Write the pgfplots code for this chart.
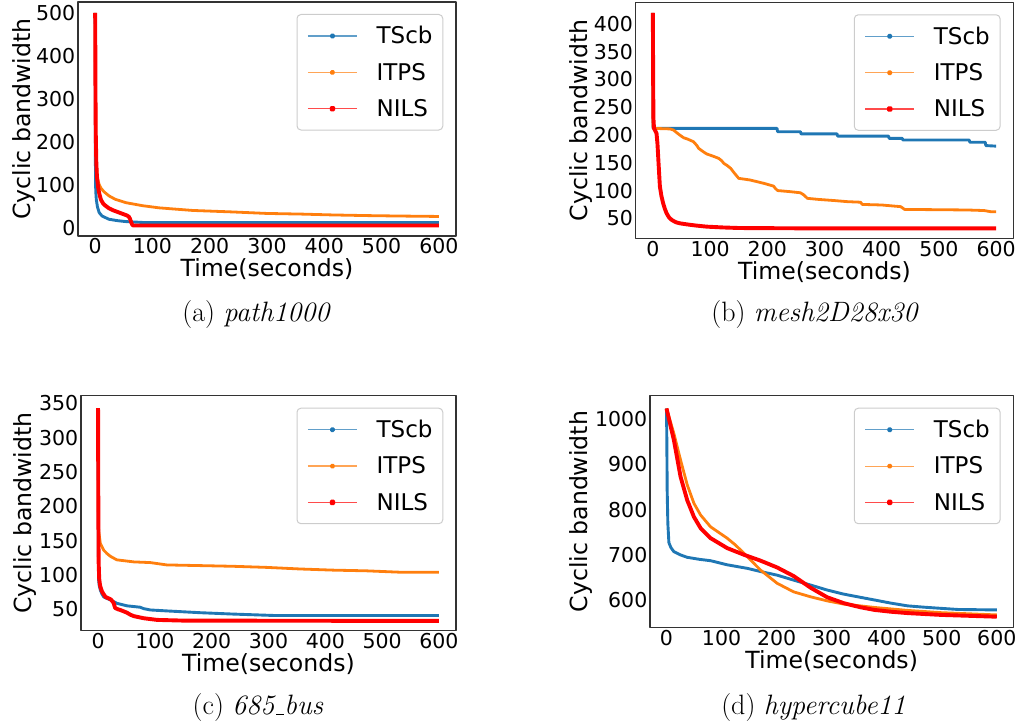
\documentclass[border=0pt]{standalone}
\usepackage{pgfplots}
\pgfplotsset{compat=1.18}
\usepackage{fontspec}
\newfontfamily\dv{DejaVu Sans}
\newcommand{\tickfont}{\dv\fontsize{20.5pt}{24pt}\selectfont}
\newcommand{\labfont}{\dv\fontsize{23.6pt}{28pt}\selectfont}
\newcommand{\legfont}{\dv\fontsize{23pt}{28pt}\selectfont}
\newcommand{\us}{\leavevmode\kern.06em\vbox{\hrule width .3em height 1.1pt}}
\definecolor{tblue}{HTML}{1F77B4}
\definecolor{torange}{HTML}{FF7F0E}
\definecolor{tred}{HTML}{FF0000}
\pgfplotsset{
  cbstyle/.style={
    scale only axis,
    axis line style={black!80, line width=1.1pt},
    major tick length=0pt,
    xmin=-30, xmax=630,
    xtick={0,100,...,600},
    scaled ticks=false,
    /pgf/number format/assume math mode=true,
    /pgf/number format/set thousands separator={},
    tick label style={font=\tickfont},
    xticklabel style={anchor=north, inner sep=0pt, yshift=-2.5pt},
    yticklabel style={anchor=east, inner sep=0pt, xshift=-2.5pt},
    label style={font=\labfont},
    xlabel={Time(seconds)},
    ylabel={Cyclic bandwidth},
    legend cell align=left,
    legend style={at={(axis description cs:1,1)}, anchor=north east,
      xshift=-12.7pt, yshift=-12pt, font=\legfont,
      draw=black!20, line width=1pt, rounded corners=4pt,
      fill=white, fill opacity=0.8, text opacity=1, draw opacity=1,
      inner xsep=10.3pt, inner ysep=12pt, row sep=17.7pt, column sep=19pt,
      nodes={inner sep=0pt}},
    legend image code/.code={
      \draw[##1, line width=1.3pt, opacity=0.7] (0pt,0pt) -- (49pt,0pt);
      \fill[##1, opacity=1] (24.5pt,0pt) circle (1.3pt);
    },
    line join=round,
  },
  tscb/.style={color=tblue, line width=2.9pt, line join=round},
  itps/.style={color=torange, line width=2.8pt, line join=round},
  nils/.style={color=tred, line width=3.9pt, line join=round},
}
\begin{document}
\begin{tikzpicture}
\path[use as bounding box] (0pt,0pt) rectangle (1018pt,727pt);

% (a) path1000
\begin{axis}[cbstyle, at={(78pt,491pt)}, anchor=south west,
  width=378pt, height=234pt, ymin=-19.5, ymax=525.5,
  ytick={0,100,...,500},
  xlabel style={at={(axis description cs:0.5,-0.1752)}, anchor=base},
  ylabel style={at={(axis description cs:-0.1251,0.5)}, anchor=base}]
\addplot[tscb] coordinates {(0,500) (0.5,120) (1,85) (2,65) (4,48) (7,35) (12,27) (24,19.5) (40,16) (54,14) (83,12) (200,12) (600,12)};
\addplot[itps] coordinates {(0,500) (1,200) (2,150) (4,115) (7,100) (10,92) (15,84) (24,74) (35,66) (54,58) (83,51) (112,46) (170,40) (240,36.5) (300,33) (360,31.5) (415,29.5) (475,28) (530,27) (600,26)};
\addplot[nils] coordinates {(0,500) (0.5,320) (1,220) (2,150) (3,120) (5,95) (7,80) (10,65) (14,56) (18,51) (24,45) (32,40) (42,35) (50,31) (56,28) (59,25) (61,20) (63,12) (65,6) (67,5) (200,5) (600,5)};
\legend{TScb,ITPS,NILS}
\end{axis}

% (b) mesh2D28x30
\begin{axis}[cbstyle, at={(635.7pt,488.3pt)}, anchor=south west,
  width=377.6pt, height=236.4pt, ymin=13.3, ymax=439.1,
  ytick={50,100,...,400},
  xlabel style={at={(axis description cs:0.5,-0.1734)}, anchor=base},
  ylabel style={at={(axis description cs:-0.1282,0.5)}, anchor=base}]
\addplot[tscb] coordinates {(0,420) (0.5,212) (217,212) (218,206) (258,206) (259,202) (322,202) (323,198) (412,198) (413,194) (436,194) (437,191) (553,191) (554,187) (581,187) (582,181) (600,180)};
\addplot[itps] coordinates {(0,420) (0.5,212) (30,211) (36,209) (42,204) (47,200) (54,195) (60,193) (71,188) (77,181) (80,176) (88,170) (94,166) (105,162) (115,158) (120,154) (124,149) (130,145) (136,140) (142,132) (150,122) (170,119) (182,116) (194,113) (211,108) (214,104) (218,100) (240,98) (258,96) (264,92) (270,86) (290,84) (317,82) (340,80) (363,79) (366,75) (400,74) (433,71) (436,69) (440,66) (500,65.5) (550,65) (579,64) (590,62) (600,62)};
\addplot[nils] coordinates {(0,420) (0.5,300) (1,230) (2,212) (3.5,209) (6.4,203) (8,185) (9.3,161) (11,130) (12.3,107) (15,90) (18,77) (21,67) (24,59) (28,52) (33,47) (40,43) (47,41) (60,39) (75,37) (94,35) (123,33.5) (152,32.5) (250,32) (600,32)};
\legend{TScb,ITPS,NILS}
\end{axis}

% (c) 685_bus
\begin{axis}[cbstyle, at={(81pt,96.3pt)}, anchor=south west,
  width=375pt, height=235pt, ymin=18.8, ymax=361.1,
  ytick={50,100,...,350},
  xlabel style={at={(axis description cs:0.5,-0.1745)}, anchor=base},
  ylabel style={at={(axis description cs:-0.1315,0.5)}, anchor=base}]
\addplot[tscb] coordinates {(0,343) (0.5,150) (1,93) (2,85) (4,78) (7,72) (10,68) (15,66) (22,63.6) (33,58.7) (51,55) (74,53) (80,51) (92,49) (121,47.6) (180,45) (238,43) (308,41) (600,41)};
\addplot[itps] coordinates {(0,343) (0.5,200) (1,165) (4,146) (10,136) (16,131) (22,127) (33,122) (63,119) (92,118) (121,114.6) (180,113.6) (238,112.6) (297,111) (355,108.7) (414,107) (472,106) (531,104) (600,104)};
\addplot[nils] coordinates {(0,343) (0.5,200) (1,120) (2,95) (3,88) (4,83) (7,75.7) (13,68) (22,64.6) (25,62) (27.5,59) (30,52) (35,50) (39,49) (45,47) (51,45) (57,42) (63,40) (80,37) (104,34.5) (150,33.5) (600,33)};
\legend{TScb,ITPS,NILS}
\end{axis}

% (d) hypercube11
\begin{axis}[cbstyle, at={(650pt,99.3pt)}, anchor=south west,
  width=363.3pt, height=232pt, ymin=538.7, ymax=1052.3,
  ytick={600,700,...,1000},
  xlabel style={at={(axis description cs:0.5,-0.1767)}, anchor=base},
  ylabel style={at={(axis description cs:-0.1726,0.5)}, anchor=base}]
\addplot[tscb] coordinates {(0,1024) (0.6,950) (1.2,843) (2.4,770) (4.3,727) (8,716) (13.4,707) (25,700) (37.6,694.5) (60,690) (80,687) (110,678) (147,670) (171,663) (201,655) (231,644) (262,633) (292,622) (322,613) (352,606) (378,600) (408,593) (438,587) (469,584) (499,581.5) (530,579) (600,578)};
\addplot[itps] coordinates {(0,1024) (13.4,968.5) (25.5,910) (37.6,855) (49.8,814) (62,788) (80,762) (110,737) (125,722) (141,703) (171,666) (201,637) (231,618) (262,607) (292,598) (322,591) (352,587) (378,583.5) (438,577) (499,572) (600,567)};
\addplot[nils] coordinates {(0,1024) (13.4,954) (25.5,873) (37.6,821) (49.8,784) (62,759) (80,737) (110,715) (141,700) (171,687) (201,672) (231,653) (262,627) (292,606) (322,593) (352,584) (378,578) (408,574) (438,571) (499,567) (600,563)};
\legend{TScb,ITPS,NILS}
\end{axis}

\node[anchor=base, font=\fontsize{28pt}{32pt}\selectfont] at (256.5pt,405.3pt) {(a) \textit{path1000}};
\node[anchor=base, font=\fontsize{28pt}{32pt}\selectfont] at (815pt,405.3pt) {(b) \textit{mesh2D28x30}};
\node[anchor=base, font=\fontsize{28pt}{32pt}\selectfont] at (258pt,12pt) {(c) \textit{685\us bus}};
\node[anchor=base, font=\fontsize{28pt}{32pt}\selectfont] at (813.5pt,12pt) {(d) \textit{hypercube11}};
\end{tikzpicture}
\end{document}
